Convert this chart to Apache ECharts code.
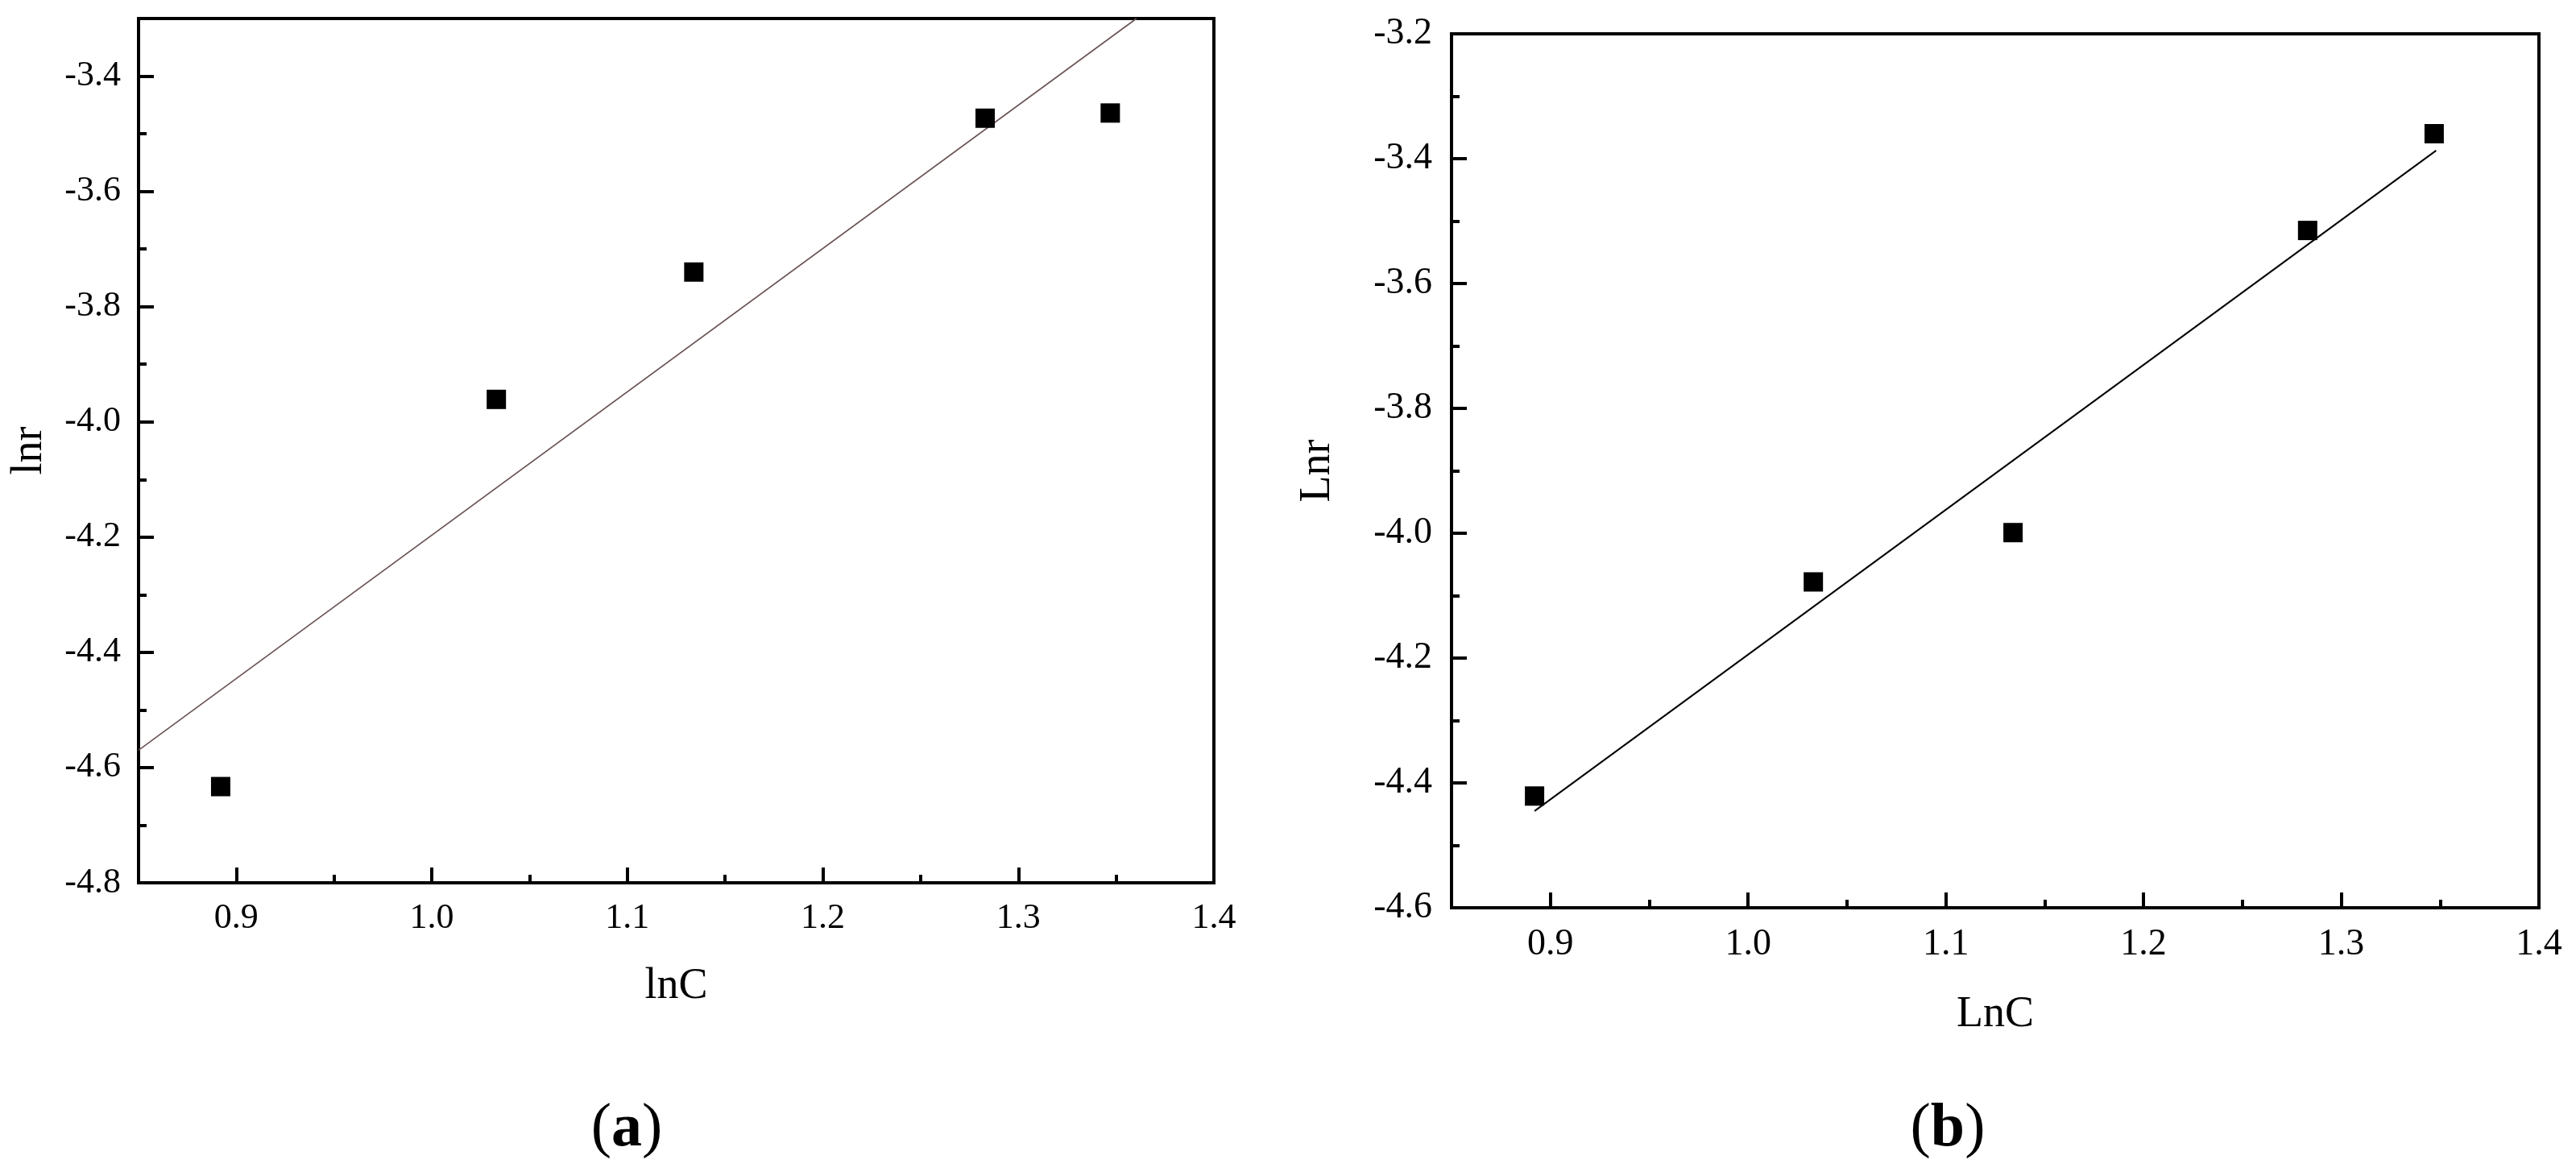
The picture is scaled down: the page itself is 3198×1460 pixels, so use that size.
<!DOCTYPE html>
<html>
<head>
<meta charset="utf-8">
<script src="https://cdn.jsdelivr.net/npm/echarts@6/dist/echarts.min.js"></script>
<style>
html,body{margin:0;padding:0;background:#fff;}
#chart{width:3198px;height:1460px;}
</style>
</head>
<body>
<div id="chart"></div>
<script>
// ---- data ----
const lnC = [0.892, 1.033, 1.134, 1.283, 1.347];
const lnrA = [-4.633, -3.961, -3.740, -3.473, -3.464];
const lnrB = [-4.421, -4.078, -3.999, -3.515, -3.360];
// fitted straight lines (end points)
const fitAx = [0.85, 1.3604];
const fitAy = [-4.570, -3.300];
const fitBx = [0.892, 1.348];
const fitBy = [-4.445, -3.387];
// tick values
const xMajorTicks = [0.9, 1.0, 1.1, 1.2, 1.3, 1.4];
const xMinorTicks = [0.95, 1.05, 1.15, 1.25, 1.35];
const yMajorA = [-4.8, -4.6, -4.4, -4.2, -4.0, -3.8, -3.6, -3.4];
const yMinorA = [-4.7, -4.5, -4.3, -4.1, -3.9, -3.7, -3.5];
const yMajorB = [-4.6, -4.4, -4.2, -4.0, -3.8, -3.6, -3.4, -3.2];
const yMinorB = [-4.5, -4.3, -4.1, -3.9, -3.7, -3.5, -3.3];
const xTitleA = 'lnC', yTitleA = 'lnr';
const xTitleB = 'LnC', yTitleB = 'Lnr';

const FONT = '"Liberation Serif", "Times New Roman", serif';
const pairs = (xs, ys) => xs.map((x, i) => [x, ys[i]]);

function majorAxis(gridIndex, min, max, ticks, fs, margin, name, nameGap, isY) {
  return {
    type: 'value', gridIndex, min, max,
    position: isY ? 'left' : 'bottom',
    name, nameLocation: 'middle', nameGap, nameMoveOverlap: false,
    nameTextStyle: {fontFamily: FONT, fontSize: 54, color: '#000'},
    axisLine: {show: true, onZero: false, lineStyle: {color: '#000', width: 4}},
    axisTick: {show: true, inside: true, length: 19, customValues: ticks, lineStyle: {color: '#000', width: 4}},
    axisLabel: {show: true, customValues: ticks, margin, fontFamily: FONT, fontSize: fs, color: '#000',
      formatter: v => Number(v).toFixed(1), hideOverlap: false},
    splitLine: {show: false}, minorTick: {show: false}
  };
}
function minorAxis(gridIndex, min, max, ticks, isY) {
  return {
    type: 'value', gridIndex, min, max,
    position: isY ? 'left' : 'bottom',
    axisLine: {show: false, onZero: false},
    axisTick: {show: true, inside: true, length: 10, customValues: ticks, lineStyle: {color: '#000', width: 4}},
    axisLabel: {show: false},
    splitLine: {show: false}
  };
}

const chart = echarts.init(document.getElementById('chart'), null, {renderer: 'canvas'});
chart.setOption({
  backgroundColor: '#fff',
  animation: false,
  grid: [
    {left: 172, top: 23, width: 1335, height: 1073, show: true, borderColor: '#000', borderWidth: 4, outerBoundsMode: 'none', containLabel: false},
    {left: 1802, top: 42, width: 1350, height: 1085, show: true, borderColor: '#000', borderWidth: 4, outerBoundsMode: 'none', containLabel: false}
  ],
  xAxis: [
    majorAxis(0, 0.85, 1.4, xMajorTicks, 44, 22, xTitleA, 102, false),
    minorAxis(0, 0.85, 1.4, xMinorTicks, false),
    majorAxis(1, 0.85, 1.4, xMajorTicks, 46, 23, xTitleB, 106, false),
    minorAxis(1, 0.85, 1.4, xMinorTicks, false)
  ],
  yAxis: [
    majorAxis(0, -4.8, -3.3, yMajorA, 44, 22, yTitleA, 108, true),
    minorAxis(0, -4.8, -3.3, yMinorA, true),
    majorAxis(1, -4.6, -3.2, yMajorB, 46, 24, yTitleB, 139, true),
    minorAxis(1, -4.6, -3.2, yMinorB, true)
  ],
  series: [
    {type: 'line', xAxisIndex: 0, yAxisIndex: 0, data: pairs(fitAx, fitAy), showSymbol: false, symbol: 'none',
      lineStyle: {color: '#6a5252', width: 1.6, opacity: 1}, clip: true, silent: true, z: 2},
    {type: 'scatter', xAxisIndex: 0, yAxisIndex: 0, data: pairs(lnC, lnrA), symbol: 'rect', symbolSize: 24,
      itemStyle: {color: '#000', opacity: 1}, z: 3},
    {type: 'line', xAxisIndex: 2, yAxisIndex: 2, data: pairs(fitBx, fitBy), showSymbol: false, symbol: 'none',
      lineStyle: {color: '#000', width: 2, opacity: 1}, clip: true, silent: true, z: 2},
    {type: 'scatter', xAxisIndex: 2, yAxisIndex: 2, data: pairs(lnC, lnrB), symbol: 'rect', symbolSize: 24,
      itemStyle: {color: '#000', opacity: 1}, z: 3}
  ],
  graphic: [
    {type: 'text', x: 778, y: 1402, style: {text: '{p|(}{b|a}{p|)}', align: 'center', verticalAlign: 'middle',
      rich: {p: {fontFamily: FONT, fontSize: 76, fill: '#000'}, b: {fontFamily: FONT, fontSize: 76, fontWeight: 'bold', fill: '#000'}}}},
    {type: 'text', x: 2418, y: 1402, style: {text: '{p|(}{b|b}{p|)}', align: 'center', verticalAlign: 'middle',
      rich: {p: {fontFamily: FONT, fontSize: 76, fill: '#000'}, b: {fontFamily: FONT, fontSize: 76, fontWeight: 'bold', fill: '#000'}}}}
  ]
});
</script>
</body>
</html>
